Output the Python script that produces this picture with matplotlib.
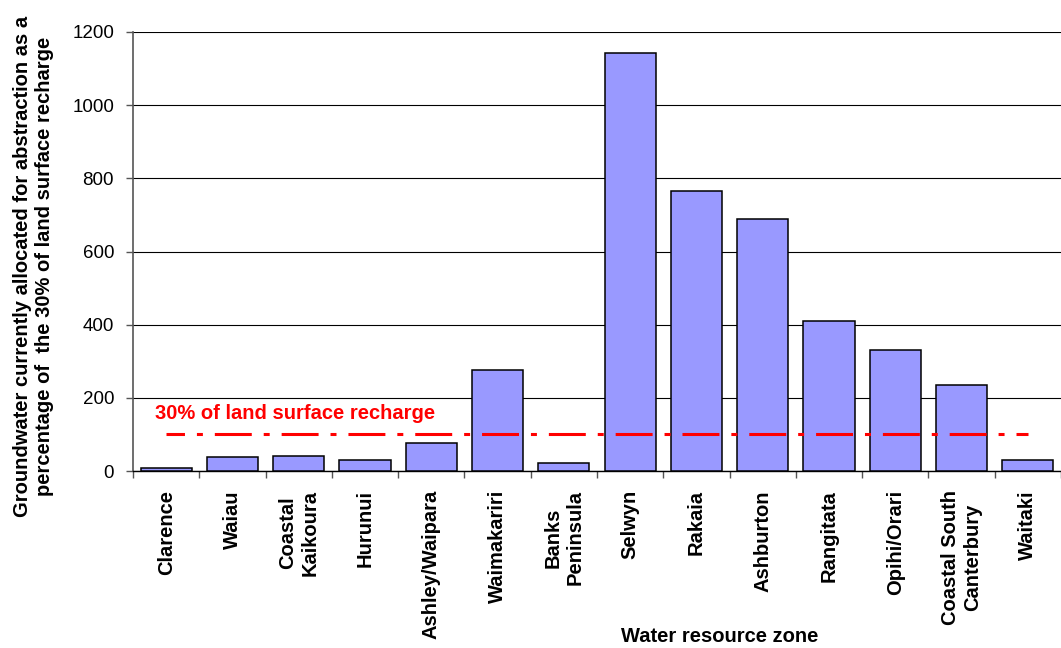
import numpy as np
import matplotlib.pyplot as plt

plt.rcParams['font.family'] = ['Liberation Sans', 'DejaVu Sans']
plt.rcParams['lines.scale_dashes'] = False

# zonas e valores (% da recarga de 30%)
zonas = ['Clarence', 'Waiau', 'Coastal\nKaikoura', 'Hurunui', 'Ashley/Waipara',
         'Waimakariri', 'Banks\nPeninsula', 'Selwyn', 'Rakaia', 'Ashburton',
         'Rangitata', 'Opihi/Orari', 'Coastal South\nCanterbury', 'Waitaki']
alocado = [9, 37, 41, 30, 76, 276, 23, 1142, 765, 689, 410, 331, 236, 29]
limite = 100  # 30% da recarga superficial
yticks = [0, 200, 400, 600, 800, 1000, 1200]

fig = plt.figure(figsize=(10.61, 6.48), dpi=100)
ax = fig.add_axes([133/1061, 1 - 471/648, 928/1061, 439/648])

x = np.arange(len(zonas))
ax.bar(x, alocado, width=0.77, color='#9999FF', edgecolor='black',
       linewidth=1.1, zorder=3)

# linha do limite (traço-ponto)
ax.plot([x[0], x[-1]], [limite, limite], color='#FF0000', lw=2.2,
        ls=(13.3, (26.6, 8.6, 4.3, 8.6)), zorder=4)
ax.text(-0.17, 158, '30% of land surface recharge', color='#FF0000',
        fontsize=14.5, fontweight='bold', va='center', ha='left', zorder=5)

ax.set_xlim(-0.5, 13.43)
ax.set_ylim(0, 1200)
ax.set_yticks(yticks)
ax.yaxis.grid(True, color='black', lw=0.8, zorder=0)
ax.set_axisbelow(True)

ax.set_xticks(x)
ax.set_xticklabels(zonas, rotation=90, fontsize=14.5, fontweight='bold',
                   ha='center', va='top', multialignment='center')
ax.set_xticks(np.arange(-0.5, 14, 1), minor=True)
ax.tick_params(axis='x', which='major', length=0, pad=13.7)
ax.tick_params(axis='x', which='minor', length=5, color='#555555', width=1)
ax.tick_params(axis='y', length=5, color='#555555', width=1, pad=8.6,
               labelsize=13.5)

for s in ['top', 'right']:
    ax.spines[s].set_visible(False)
ax.spines['left'].set_color('#555555')
ax.spines['left'].set_linewidth(1.2)
ax.spines['bottom'].set_color('black')
ax.spines['bottom'].set_linewidth(1)

fig.text(34/1061, 1 - 266/648,
         'Groundwater currently allocated for abstraction as a\n'
         'percentage of  the 30% of land surface recharge',
         rotation=90, ha='center', va='center', multialignment='center',
         fontsize=14.5, fontweight='bold')
fig.text(720/1061, 2/648, 'Water resource zone', ha='center',
         va='bottom', fontsize=14.5, fontweight='bold')

plt.savefig('out.png', format='png', dpi=100)
